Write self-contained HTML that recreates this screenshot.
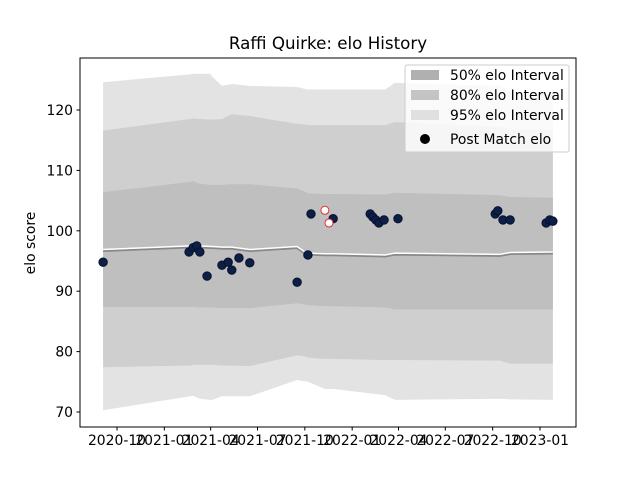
<!DOCTYPE html>
<html><head><meta charset="utf-8"><style>
body{margin:0;background:#fff;font-family:"Liberation Sans","DejaVu Sans",sans-serif}
svg text{font-family:"DejaVu Sans","Liberation Sans",sans-serif}
</style></head><body>
<svg id="c" width="640" height="480" viewBox="0 0 640 480"></svg>
<script>
const bandDays=[-27,142,148,161,181,185,204,223,258,350,365,371,404,420,521,540,744,764,847];
const up95=[124.6,125.9,126,126,126,125.5,124,124.3,124,123.8,123.5,123.4,123.4,123.4,123.4,124.5,124,123,122.5];
const lo95=[70.3,72.6,72.7,72.2,72,72,72.6,72.6,72.6,75.3,75.1,75,73.8,73.8,72.8,72,72.2,72.1,72];
const up80=[116.6,118.5,118.6,118.5,118.4,118.4,118.5,119.3,119,117.7,117.6,117.5,117.5,117.5,117.5,118,117.2,116.8,116.7];
const lo80=[77.4,77.7,77.8,77.8,77.8,77.8,77.7,77.7,77.6,79.4,79.2,79,78.8,78.8,78.6,78.6,78.5,78,78];
const up50=[106.4,108.1,108.2,107.8,107.6,107.6,107.6,107.7,107.7,107,106.5,106.2,106.1,106.1,106,106.3,105.9,105.6,105.5];
const lo50=[87.4,87.4,87.4,87.3,87.3,87.3,87.2,87.2,87.2,88,87.8,87.7,87.5,87.5,87.3,87,87,87,87];
const mean=[96.9,97.5,97.6,97.5,97.4,97.4,97.3,97.3,96.9,97.4,96.5,96.3,96.2,96.2,96,96.3,96.1,96.4,96.5];
const ptDays=[-27,140,148,155,161,175,204,216,223,237,258,350,371,377,420,492,497,503,509,519,546,735,740,750,764,834,841,847];
const ptVals=[94.8,96.5,97.2,97.5,96.5,92.5,94.3,94.8,93.5,95.5,94.7,91.5,96,102.8,102,102.8,102.3,101.8,101.3,101.8,102,102.8,103.3,101.8,101.8,101.3,101.8,101.6];
const hollowDays=[404,412];
const hollowVals=[103.4,101.3];
const yTicks=[70,80,90,100,110,120];
const xTickDays=[0,92,182,273,365,457,547,638,730,822];
const xTickLabels=["2020-10","2021-01","2021-04","2021-07","2021-10","2022-01","2022-04","2022-07","2022-10","2023-01"];

const L=80,R=576,T=58,B=427;
const X=d=>117+d*0.5146;
const Y=v=>412-(v-70)*6.04;
const svg=document.getElementById('c');
const NS='http://www.w3.org/2000/svg';
function mk(tag,attrs,parent){const e=document.createElementNS(NS,tag);for(const k in attrs)e.setAttribute(k,attrs[k]);(parent||svg).appendChild(e);return e;}
function band(up,lo,fill,name){
  let p=bandDays.map((d,i)=>X(d)+','+Y(up[i])).join(' ')+' '+bandDays.slice().reverse().map((d,j)=>{const i=bandDays.length-1-j;return X(d)+','+Y(lo[i]);}).join(' ');
  const e=mk('polygon',{points:p,fill:fill});
  
  
}
band(up95,lo95,'#e3e3e3','band-95');
band(up80,lo80,'#cfcfcf','band-80');
band(up50,lo50,'#bfbfbf','band-50');
const ml=mk('polyline',{points:bandDays.map((d,i)=>X(d)+','+(Y(mean[i])+1.5)).join(' '),fill:'none',stroke:'#888',"stroke-width":2});


const wl=mk('polyline',{points:bandDays.map((d,i)=>X(d)+','+Y(mean[i])).join(' '),fill:'none',stroke:'#fff',"stroke-width":1.5});


ptDays.forEach((d,i)=>{const c=mk('circle',{cx:X(d),cy:Y(ptVals[i]),r:4.2,fill:'#0d1f45',stroke:'#061030'});

});
hollowDays.forEach((d,i)=>{const c=mk('circle',{cx:X(d),cy:Y(hollowVals[i]),r:4,fill:'#fff',stroke:'#e03030'});

});
const fr=mk('rect',{x:L,y:T,width:R-L,height:B-T,fill:'none',stroke:'#000',"stroke-width":1});


yTicks.forEach(v=>{mk('line',{x1:L-3.5,x2:L,y1:Y(v),y2:Y(v),stroke:'#000'});
const t=mk('text',{x:L-7,y:Y(v)+5,"font-size":13.9,"text-anchor":"end"});t.textContent=v;

});
xTickDays.forEach((d,i)=>{mk('line',{x1:X(d),x2:X(d),y1:B,y2:B+3.5,stroke:'#000'});
const t=mk('text',{x:X(d),y:B+18,"font-size":13.9,"text-anchor":"middle"});t.textContent=xTickLabels[i];

});
const yt=mk('text',{x:35,y:243,"font-size":13.9,"text-anchor":"middle",transform:"rotate(-90 35 243)"});yt.textContent='elo score';


const tt=mk('text',{x:328,y:49,"font-size":16.7,"text-anchor":"middle"});tt.textContent='Raffi Quirke: elo History';


const lg=mk('g',{});


mk('rect',{x:405,y:65,width:164,height:87,rx:2,fill:'#fff',"fill-opacity":0.8,stroke:'#ccc'},lg);
const items=[['#b0b0b0','50% elo Interval'],['#c4c4c4','80% elo Interval'],['#e0e0e0','95% elo Interval']];
items.forEach((it,i)=>{const y=69+i*20;mk('rect',{x:411,y:y+1,width:28,height:10,fill:it[0]},lg);
const t=mk('text',{x:450,y:y+11,"font-size":13.9},lg);t.textContent=it[1];

});
mk('circle',{cx:425,cy:139,r:5,fill:'#000'},lg);
const t4=mk('text',{x:450,y:144,"font-size":13.9},lg);t4.textContent='Post Match elo';


</script>
</body></html>
